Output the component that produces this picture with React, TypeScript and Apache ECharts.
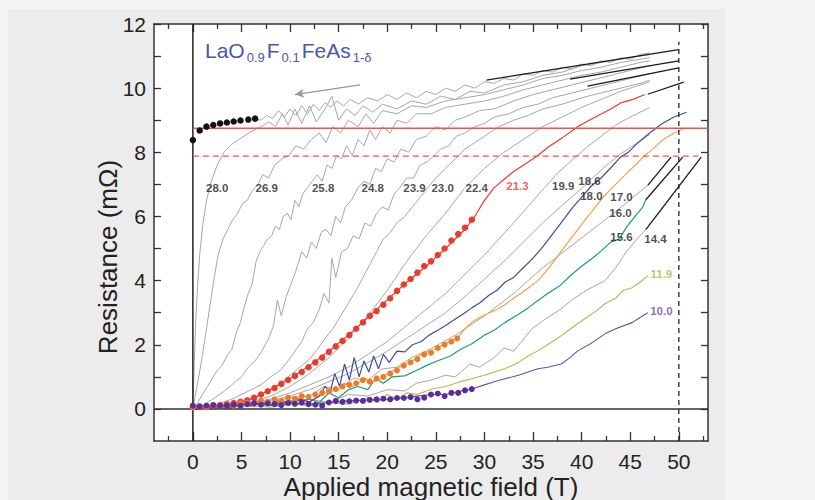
import React, { useEffect, useRef } from "react";
import * as echarts from "echarts";

// ---------- data (field T, resistance mΩ) ----------
const xMajorTicks = [0, 5, 10, 15, 20, 25, 30, 35, 40, 45, 50];
const xMinorTicks = [-2.5, 2.5, 7.5, 12.5, 17.5, 22.5, 27.5, 32.5, 37.5, 42.5, 47.5, 52.5];
const yLabelTicks = [0, 2, 4, 6, 8, 10, 12];
const yAllTicks = [0, 1, 2, 3, 4, 5, 6, 7, 8, 9, 10, 11, 12];

const blackDots = [[0, 8.38], [0.7, 8.68], [1.4, 8.8], [2.1, 8.85], [2.8, 8.9], [3.5, 8.93], [4.2, 8.96], [4.9, 8.99], [5.7, 9.02], [6.4, 9.05]];

const cTop = [[6.4, 9.05], [7, 9.0], [7.6, 9.15], [8.2, 9.05], [8.8, 9.3], [9.4, 9.1], [10, 9.35], [10.6, 9.15], [11.2, 9.45], [11.8, 9.2], [12.4, 9.5], [13, 9.3], [13.6, 9.55], [14.2, 9.4], [14.8, 9.6], [15.5, 9.45], [16.2, 9.65], [17, 9.5], [18, 9.7], [19, 9.6], [20, 9.8], [21, 9.65], [22, 9.85], [23, 9.7], [24, 9.9], [25, 9.8], [26, 10.0], [27, 9.9], [28, 10.1], [29, 10.0], [30, 10.2], [31, 10.15], [32, 10.3], [33, 10.25], [34, 10.45], [35, 10.4], [36, 10.55], [37, 10.5], [38, 10.65], [39, 10.6], [40, 10.75], [41, 10.7], [42, 10.85], [43, 10.8], [44, 10.95], [45, 10.9], [46, 11.05], [47, 11.1]];

const c280 = [[0, 0], [0.15, 1.5], [0.3, 2.8], [0.5, 3.9], [0.7, 4.8], [1, 5.7], [1.4, 6.5], [1.9, 7.1], [2.5, 7.6], [3.2, 8.0], [4, 8.25], [5, 8.45], [6, 8.65], [7, 8.8], [7.8, 8.95], [8.5, 8.8], [9.2, 9.2], [9.8, 8.85], [10.5, 9.35], [11.2, 8.9], [12, 9.45], [12.7, 8.95], [13.5, 9.3], [14.3, 9.75], [15, 9.0], [15.8, 9.35], [16.7, 9.15], [17.5, 9.45], [18.5, 9.25], [19.5, 9.5], [21, 9.35], [22.5, 9.6], [24, 9.5], [25.5, 9.75], [27, 9.65], [28.5, 9.9], [30, 9.85], [32, 10.1], [34, 10.2], [36, 10.4], [38, 10.5], [40, 10.7], [42, 10.8], [44, 10.9], [46, 11.0], [47, 11.05]];

const c269 = [[0, 0], [0.3, 0.5], [0.6, 1.0], [1, 1.7], [1.4, 2.5], [1.8, 3.3], [2.2, 4.1], [2.6, 4.8], [3.1, 5.3], [3.6, 5.6], [4.1, 5.9], [4.6, 6.1], [5.1, 6.4], [5.6, 6.5], [6.1, 6.8], [6.7, 7.0], [7.2, 7.3], [7.8, 7.2], [8.4, 7.6], [9.2, 7.8], [9.9, 7.9], [10.6, 8.2], [11.4, 8.1], [12.2, 8.4], [13, 8.6], [13.7, 8.3], [14.4, 8.8], [15.2, 8.6], [16, 9.0], [17, 8.8], [17.8, 9.2], [18.6, 8.9], [19.5, 9.3], [21, 9.2], [22.5, 9.45], [24, 9.4], [26, 9.6], [28, 9.7], [30, 9.8], [32, 9.95], [34, 10.1], [36, 10.3], [38, 10.4], [40, 10.55], [42, 10.65], [44, 10.8], [46, 10.9], [47, 10.95]];

const c258 = [[0, 0], [0.5, 0.2], [1, 0.45], [1.5, 0.7], [2, 0.95], [2.5, 1.2], [3, 1.35], [3.5, 1.65], [4, 1.85], [4.5, 2.4], [4.9, 2.7], [5.3, 3.2], [5.7, 3.6], [6.1, 3.9], [6.5, 4.6], [6.9, 4.9], [7.3, 5.1], [7.7, 5.3], [8.1, 5.4], [8.5, 5.7], [8.9, 5.6], [9.3, 6.0], [9.7, 6.1], [10.1, 5.9], [10.5, 6.5], [10.9, 6.3], [11.3, 6.7], [11.8, 6.9], [12.3, 7.1], [12.8, 7.3], [13.3, 7.1], [13.8, 7.6], [14.3, 7.5], [14.8, 7.9], [15.3, 7.8], [15.8, 8.2], [16.4, 7.9], [17, 8.4], [17.6, 8.2], [18.2, 8.7], [18.8, 8.4], [19.5, 8.8], [20.3, 8.6], [21, 9.0], [22, 8.9], [23, 9.2], [24.5, 9.2], [26, 9.4], [28, 9.5], [30, 9.6], [32, 9.75], [34, 9.95], [36, 10.1], [38, 10.25], [40, 10.4], [42, 10.5], [44, 10.65], [46, 10.8], [47, 10.85]];

const c248 = [[0, 0], [1, 0.1], [2, 0.3], [3, 0.5], [4, 0.75], [5, 1.0], [5.7, 1.3], [6.4, 1.5], [7.1, 1.8], [7.8, 2.2], [8.3, 2.6], [8.7, 3.4], [9.1, 2.9], [9.6, 3.5], [10.1, 3.9], [10.6, 4.3], [11.2, 4.9], [11.7, 4.7], [12.2, 5.2], [12.7, 5.0], [13.2, 5.5], [13.7, 5.6], [14.2, 5.4], [14.7, 6.0], [15.2, 5.8], [15.7, 6.3], [16.3, 6.5], [17, 6.9], [17.6, 7.1], [18.2, 7.0], [18.8, 7.5], [19.4, 7.4], [20, 7.8], [20.7, 7.7], [21.4, 8.1], [22.2, 8.0], [23, 8.4], [24, 8.5], [25, 8.8], [26, 8.7], [27, 9.0], [28, 9.1], [29.5, 9.3], [31, 9.35], [33, 9.6], [35, 9.8], [37, 9.95], [39, 10.1], [41, 10.25], [43, 10.4], [45, 10.55], [47, 10.7]];

const c239 = [[0, 0], [2, 0.1], [4, 0.3], [6, 0.6], [7, 0.75], [8, 1.0], [9, 1.2], [9.8, 1.5], [10.5, 1.8], [11.2, 2.1], [11.8, 2.5], [12.4, 2.7], [13, 3.1], [13.5, 3.6], [14, 3.3], [14.3, 4.7], [14.7, 4.1], [15.3, 4.9], [15.9, 5.0], [16.5, 5.4], [17.1, 5.3], [17.7, 5.8], [18.3, 5.7], [18.9, 6.1], [19.5, 6.3], [20.1, 6.2], [20.7, 6.7], [21.3, 6.9], [22, 7.2], [22.7, 7.2], [23.4, 7.6], [24.1, 7.7], [24.8, 7.9], [25.5, 8.1], [26.3, 8.2], [27.1, 8.5], [28, 8.6], [29, 8.8], [30, 8.9], [31, 9.1], [32.5, 9.2], [34, 9.4], [35.5, 9.5], [37, 9.7], [39, 9.85], [41, 10.0], [43, 10.15], [45, 10.3], [47, 10.45]];

const c230 = [[0, 0], [3, 0.1], [5, 0.25], [7, 0.45], [9, 0.8], [10, 1.05], [11, 1.3], [12, 1.55], [12.8, 1.85], [13.6, 2.2], [14.4, 2.5], [15.2, 2.9], [16, 3.3], [16.8, 3.7], [17.5, 4.1], [18.2, 4.5], [18.9, 4.9], [19.6, 5.3], [20.3, 5.5], [21, 5.8], [21.8, 6.0], [22.6, 6.3], [23.4, 6.6], [24.2, 6.9], [25, 7.2], [26, 7.5], [27, 7.8], [28, 8.1], [29, 8.3], [30, 8.5], [31.5, 8.8], [33, 9.0], [34.5, 9.15], [36, 9.35], [38, 9.5], [40, 9.7], [42, 9.85], [44, 10.0], [46, 10.15], [47, 10.25]];

const c224 = [[0, 0], [3, 0.05], [6, 0.2], [8, 0.4], [10, 0.7], [12, 1.1], [14, 1.6], [16, 2.2], [18, 2.9], [20, 3.7], [22, 4.6], [24, 5.4], [26, 6.1], [28, 6.9], [30, 7.5], [32, 8.0], [34, 8.4], [36, 8.8], [38, 9.1], [40, 9.4], [42, 9.65], [44, 9.9], [46, 10.1], [47, 10.2]];

const c213 = [[0, 0.05], [2, 0.08], [4, 0.15], [6, 0.3], [8, 0.6], [10, 0.95], [12, 1.35], [14, 1.8], [16, 2.3], [18, 2.85], [20, 3.4], [22, 3.95], [24, 4.45], [26, 5.0], [28, 5.6], [29, 6.0], [30, 6.5], [31, 6.9], [32, 7.15], [33, 7.4], [34, 7.6], [35.5, 7.9], [36.5, 8.15], [38, 8.45], [39.6, 8.8], [40.5, 8.95], [41.7, 9.15], [43, 9.35], [44.1, 9.55], [45.3, 9.65], [46.5, 9.8]];
const c213Dots = [[0, 0.05], [0.7, 0.06], [1.4, 0.08], [2.1, 0.1], [2.8, 0.12], [3.5, 0.15], [4.2, 0.18], [4.9, 0.22], [5.6, 0.27], [6.3, 0.35], [7.0, 0.45], [7.7, 0.55], [8.4, 0.65], [9.1, 0.78], [9.8, 0.9], [10.5, 1.03], [11.2, 1.15], [11.9, 1.3], [12.6, 1.45], [13.3, 1.6], [14.0, 1.78], [14.7, 1.95], [15.4, 2.12], [16.1, 2.3], [16.8, 2.5], [17.5, 2.7], [18.2, 2.9], [18.9, 3.05], [19.6, 3.25], [20.3, 3.45], [21.0, 3.68], [21.7, 3.88], [22.4, 4.05], [23.1, 4.25], [23.8, 4.45], [24.5, 4.6], [25.2, 4.8], [25.9, 5.0], [26.6, 5.25], [27.3, 5.45], [28.0, 5.65], [28.7, 5.9]];

const c199 = [[0, 0], [3, 0.05], [5, 0.15], [8, 0.3], [10, 0.5], [12, 0.75], [14, 1.0], [16, 1.3], [18, 1.7], [20, 2.1], [22, 2.6], [24, 3.1], [26, 3.6], [28, 4.2], [30, 4.8], [31.5, 5.3], [33, 5.8], [34.6, 6.35], [36.2, 6.9], [37.5, 7.35], [39, 7.75], [40.5, 8.15], [42, 8.5], [43.5, 8.85], [45, 9.1], [46, 9.25], [47, 9.4]];

const c186 = [[0, 0], [4, 0.05], [8, 0.25], [10, 0.4], [12, 0.6], [14, 0.85], [16, 1.1], [18, 1.45], [20, 1.8], [22, 2.2], [24, 2.6], [26, 3.0], [28, 3.5], [30, 4.05], [32, 4.6], [34, 5.2], [36, 5.8], [38, 6.35], [40.1, 6.9], [42, 7.45], [44, 7.95], [46, 8.35], [47, 8.55]];

const c180 = [[0, 0.05], [1, 0.08], [2, 0.03], [3, 0.12], [4, 0.05], [5, 0.15], [6, 0.1], [7, 0.2], [8, 0.12], [9, 0.25], [10, 0.18], [11, 0.3], [12, 0.22], [13, 0.4], [13.6, 0.7], [14.1, 0.5], [14.6, 1.1], [15.1, 0.7], [15.6, 1.4], [16.1, 0.9], [16.6, 1.6], [17.1, 1.0], [17.6, 1.5], [18.1, 1.15], [18.6, 1.65], [19.1, 1.25], [19.6, 1.7], [20.2, 1.45], [21, 1.8], [21.8, 1.78], [22.6, 2.0], [23.5, 2.1], [24.3, 2.3], [25.2, 2.45], [26, 2.6], [27, 2.8], [28, 3.0], [28.7, 3.15], [29.5, 3.3], [30.5, 3.55], [31.3, 3.7], [32.1, 3.95], [33, 4.1], [34, 4.4], [35, 4.7], [36, 5.05], [37, 5.45], [38, 5.85], [39, 6.25], [40, 6.6], [41, 6.95], [42, 7.2], [43.1, 7.55], [44, 7.85], [44.8, 8.0], [45.8, 8.3], [47, 8.6], [48.3, 8.9], [49.5, 9.1], [50.8, 9.25]];

const c170 = [[0, 0.05], [1, 0.1], [2, 0.02], [3, 0.15], [4, 0.0], [5, 0.2], [6, 0.08], [7, 0.25], [8, 0.1], [9, 0.3], [10, 0.15], [11, 0.35], [12, 0.2], [13, 0.4], [14, 0.55], [15, 0.6], [15.6, 0.8], [16.5, 0.7], [17.7, 0.95], [18.5, 0.85], [19.2, 0.9], [20, 1.1], [21, 1.25], [21.8, 1.4], [22.6, 1.5], [23.5, 1.7], [24.3, 1.8], [25.1, 1.9], [26, 2.05], [27.2, 2.2], [28, 2.5], [28.7, 2.7], [29.5, 2.85], [30.5, 3.0], [31.3, 3.1], [32.1, 3.25], [33, 3.45], [34, 3.65], [35.5, 4.0], [36.5, 4.35], [37.5, 4.75], [38.5, 5.15], [39.5, 5.55], [40.5, 5.95], [41.3, 6.25], [42.2, 6.6], [43, 6.85], [44, 7.15], [44.8, 7.4], [45.7, 7.65], [46.5, 7.9], [47.3, 8.1], [48.4, 8.4], [49.5, 8.6], [50.6, 8.75]];
const c170Dots = [[0, 0.05], [0.7, 0.08], [1.4, 0.05], [2.1, 0.12], [2.8, 0.08], [3.5, 0.15], [4.2, 0.1], [4.9, 0.18], [5.6, 0.2], [6.3, 0.15], [7.0, 0.25], [7.7, 0.22], [8.4, 0.3], [9.1, 0.25], [9.8, 0.35], [10.5, 0.32], [11.2, 0.4], [11.9, 0.38], [12.6, 0.45], [13.3, 0.5], [14.0, 0.55], [14.7, 0.62], [15.4, 0.7], [16.1, 0.75], [16.8, 0.8], [17.5, 0.9], [18.2, 0.85], [18.9, 0.95], [19.6, 1.0], [20.3, 1.1], [21.0, 1.2], [21.7, 1.35], [22.4, 1.45], [23.1, 1.55], [23.8, 1.7], [24.5, 1.75], [25.2, 1.9], [25.9, 2.0], [26.6, 2.1], [27.2, 2.2]];

const cGrayA = [[0, 0], [4, 0.1], [8, 0.2], [10, 0.35], [12, 0.4], [13.5, 0.7], [15, 0.6], [16.5, 0.95], [18, 0.9], [19.5, 1.25], [21, 1.3], [22.5, 1.6], [24, 1.8], [25.5, 2.05], [27, 2.3], [28.5, 2.6], [30, 2.9], [31.5, 3.25], [33, 3.6], [34.5, 4.0], [36, 4.4], [37.5, 4.75], [39, 5.1], [40.5, 5.45], [42, 5.8], [43.3, 6.1], [44.5, 6.4], [45.7, 6.7], [46.8, 6.97]];

const c160 = [[0, 0.0], [2, 0.1], [4, 0.05], [6, 0.2], [8, 0.1], [10, 0.25], [12, 0.3], [13, 0.2], [14, 0.5], [15, 0.35], [16, 0.6], [17, 0.7], [18, 0.6], [18.8, 0.95], [19.6, 0.8], [20.5, 1.0], [21.8, 1.03], [23, 1.2], [24, 1.35], [25.2, 1.5], [26.5, 1.65], [27.5, 1.85], [28.7, 2.03], [30, 2.3], [31, 2.45], [32.1, 2.69], [33.5, 2.95], [34.5, 3.15], [35.5, 3.38], [36.5, 3.6], [37.8, 3.85], [39, 4.2], [40, 4.45], [41.2, 4.72], [42.1, 4.95], [43, 5.2], [43.9, 5.3], [44.6, 5.66], [45.5, 6.0], [46.3, 6.3], [46.6, 6.52]];

const c144 = [[0, 0], [3, 0.05], [6, 0.15], [9, 0.1], [12, 0.3], [14, 0.2], [16, 0.45], [18, 0.4], [20, 0.6], [21.8, 0.56], [23, 0.8], [24.5, 0.9], [26, 1.05], [27, 1.0], [28.5, 1.4], [29.5, 1.3], [31, 1.6], [32, 1.9], [33, 1.8], [34.9, 2.5], [36, 2.75], [37.8, 3.1], [39, 3.4], [40.5, 3.7], [42.4, 4.0], [43.5, 4.4], [44.6, 4.9], [45.7, 5.3], [46.6, 5.59]];

const c119 = [[0, 0], [2, 0.05], [4, 0.0], [6, 0.1], [8, 0.05], [10, 0.15], [12, 0.1], [14, 0.2], [16, 0.15], [18, 0.35], [19, 0.2], [20, 0.45], [21, 0.3], [22, 0.5], [23, 0.45], [24.6, 0.62], [26, 0.7], [27.5, 0.85], [28.7, 0.94], [30, 1.05], [31, 1.15], [32.1, 1.25], [33.5, 1.45], [34.5, 1.65], [35.5, 1.81], [37, 2.1], [38, 2.3], [39, 2.53], [40.5, 2.85], [41.5, 3.05], [42.4, 3.28], [43.5, 3.45], [44.3, 3.7], [45.2, 3.78], [46, 3.95], [46.8, 4.15]];

const c100 = [[0, 0.1], [2, 0.08], [4, 0.12], [6, 0.15], [8, 0.12], [10, 0.18], [12, 0.15], [14, 0.2], [16, 0.25], [18, 0.28], [20, 0.3], [21.8, 0.34], [23, 0.4], [24.5, 0.45], [26, 0.45], [27.5, 0.55], [28.7, 0.62], [30, 0.75], [31, 0.85], [32.1, 0.94], [33.5, 1.05], [35.5, 1.25], [36.5, 1.3], [37.9, 1.4], [38.8, 1.6], [39.6, 1.81], [41, 2.05], [42.4, 2.34], [43.5, 2.5], [45.2, 2.69], [46, 2.85], [46.8, 3.0]];
const c100Dots = [[0, 0.1], [0.7, 0.08], [1.4, 0.1], [2.1, 0.12], [2.8, 0.09], [3.5, 0.11], [4.2, 0.13], [4.9, 0.1], [5.6, 0.15], [6.3, 0.18], [7.0, 0.13], [7.7, 0.17], [8.4, 0.15], [9.1, 0.12], [9.8, 0.18], [10.5, 0.16], [11.2, 0.2], [11.9, 0.15], [12.6, 0.13], [13.3, 0.1], [14.0, 0.2], [14.7, 0.25], [15.4, 0.22], [16.1, 0.24], [16.8, 0.26], [17.5, 0.25], [18.2, 0.28], [18.9, 0.3], [19.6, 0.32], [20.3, 0.3], [21.0, 0.34], [21.7, 0.34], [22.4, 0.37], [23.1, 0.3], [23.8, 0.35], [24.5, 0.45], [25.2, 0.48], [25.9, 0.4], [26.6, 0.5], [27.3, 0.5], [28.0, 0.58], [28.7, 0.62]];

// extrapolation segments (black)
const extrapolations = [
  [[30.2, 10.25], [50, 11.2]],
  [[38.8, 10.28], [50, 10.85]],
  [[40.6, 10.06], [50, 10.63]],
  [[46.8, 9.81], [50.5, 10.19]],
  [[46.8, 6.97], [49.2, 7.85]],
  [[46.6, 6.52], [50.4, 7.85]],
  [[46.6, 5.59], [52.3, 7.85]],
];

const solidRed = [[0, 8.75], [53, 8.75]];
const dashedRed = [[0, 7.88], [52, 7.88]];
const zeroFieldLine = [[0, -1], [0, 12]];
const zeroResLine = [[-4, 0], [53, 0]];
const field50Line = [[50, -1], [50, 11.45]];
const arrowFrom = [17.2, 10.1];
const arrowTo = [10.5, 9.8];

const curveLabels = ["28.0", "26.9", "25.8", "24.8", "23.9", "23.0", "22.4", "21.3", "19.9", "18.6", "18.0", "17.0", "16.0", "15.6", "14.4", "11.9", "10.0"];
const curveLabelX = [2.5, 7.6, 13.4, 18.5, 22.8, 25.7, 29.2, 33.4, 38.1, 40.8, 41.0, 44.1, 44.0, 44.1, 47.6, 48.2, 48.2];
const curveLabelY = [6.9, 6.9, 6.9, 6.9, 6.9, 6.9, 6.9, 6.95, 6.95, 7.1, 6.65, 6.6, 6.1, 5.35, 5.3, 4.2, 3.05];

const xAxisTitle = "Applied magnetic field (T)";
const yAxisTitle = "Resistance (mΩ)";

// ---------- styles ----------
const GRAY = "#a6a6a6";
const RED = "#ee3a2c";
const BLUE = "#3f4e9e";
const ORANGE = "#f7a048";
const ORANGE_DOT = "#f27a24";
const GREEN = "#1c9e74";
const OLIVE = "#b2b64e";
const PURPLE = "#6b4ca6";
const PURPLE_DOT = "#5a2d9c";
const AXIS = "#333333";
const FONT = "'Liberation Sans', Arial, Helvetica, sans-serif";

const labelColor = (name: string) =>
  name === "21.3" ? RED : name === "11.9" ? OLIVE : name === "10.0" ? PURPLE : "#222222";

function lineSeries(data: number[][], color: string, width = 1, z = 3, type: any = "solid") {
  return {
    type: "line",
    data,
    showSymbol: false,
    symbol: "none",
    silent: true,
    z,
    lineStyle: { color, width, type },
  };
}

function dotSeries(data: number[][], color: string, size = 6) {
  return {
    type: "scatter",
    data,
    symbolSize: size,
    silent: true,
    z: 6,
    itemStyle: { color, opacity: 1 },
  };
}

function buildOption() {
  const grays = [cTop, c280, c269, c258, c248, c239, c230, c224, c199, c186, cGrayA, c144];
  const series: any[] = [];
  grays.forEach((g) => series.push(lineSeries(g, GRAY, 1, 2)));
  series.push(lineSeries(c119, OLIVE, 1.1, 3));
  series.push(lineSeries(c100, PURPLE, 1.1, 3));
  series.push(lineSeries(c160, GREEN, 1.2, 3));
  series.push(lineSeries(c170, ORANGE, 1.2, 3));
  series.push(lineSeries(c180, BLUE, 1.2, 3));
  series.push(lineSeries(c213, RED, 1.2, 3));
  extrapolations.forEach((s) => series.push(lineSeries(s, "#1a1a1a", 1.3, 4)));
  series.push(lineSeries(solidRed, "#f0554a", 1.6, 5));
  series.push(lineSeries(dashedRed, "#f0554a", 1.4, 5, [6, 4]));
  series.push(lineSeries(zeroFieldLine, "#222", 1.5, 4));
  series.push(lineSeries(zeroResLine, "#333", 1.5, 4));
  series.push(lineSeries(field50Line, "#222", 1.3, 4, [5, 4]));
  series.push(dotSeries(c213Dots, RED, 6.5));
  series.push(dotSeries(c170Dots, ORANGE_DOT, 6));
  series.push(dotSeries(c100Dots, PURPLE_DOT, 6));
  series.push(dotSeries(blackDots, "#111", 6.5));
  // arrow
  series.push({
    type: "line",
    data: [],
    silent: true,
    markLine: {
      silent: true,
      symbol: ["none", "arrow"],
      symbolSize: [7, 9],
      label: { show: false },
      lineStyle: { color: "#999", width: 1.3, type: "solid" },
      data: [[{ coord: arrowFrom }, { coord: arrowTo }]],
    },
  });
  // curve labels
  series.push({
    type: "scatter",
    symbolSize: 0,
    silent: true,
    z: 8,
    data: curveLabels.map((n, i) => ({
      name: n,
      value: [curveLabelX[i], curveLabelY[i]],
      label: { color: labelColor(n) },
    })),
    label: {
      show: true,
      position: "inside",
      formatter: "{b}",
      fontSize: 11.5,
      fontWeight: "bold",
      fontFamily: FONT,
    },
  });

  const axisCommon = {
    type: "value",
    splitLine: { show: false },
  };
  const xBase = { ...axisCommon, min: -4, max: 53 };
  const yBase = { ...axisCommon, min: -1, max: 12 };

  return {
    animation: false,
    backgroundColor: "#f4f4f4",
    textStyle: { fontFamily: FONT },
    graphic: [
      { type: "rect", z: -10, silent: true, shape: { x: 8, y: 9, width: 717, height: 500 }, style: { fill: "#ececec" } },
      {
        type: "text",
        left: 205,
        top: 40,
        z: 100,
        silent: true,
        style: {
          text: "{m|LaO}{s|0.9}{m|F}{s|0.1}{m|FeAs}{s|1-δ}",
          rich: {
            m: { fontSize: 21, fontFamily: FONT, fill: "#4b56a8", verticalAlign: "top", lineHeight: 24, padding: [0, 1, 0, 0] },
            s: { fontSize: 13, fontFamily: FONT, fill: "#4b56a8", verticalAlign: "top", padding: [11, 2, 0, 1], lineHeight: 15 },
          },
        },
      },
      {
        type: "text",
        x: 108,
        y: 257,
        rotation: Math.PI / 2,
        z: 100,
        silent: true,
        style: {
          text: yAxisTitle,
          fontSize: 26,
          fontFamily: FONT,
          fill: "#222",
          align: "center",
          verticalAlign: "middle",
        },
      },
    ],
    grid: {
      left: 154,
      top: 24,
      right: 107,
      bottom: 59,
      containLabel: false,
      outerBoundsMode: "none",
      show: true,
      backgroundColor: "#ffffff",
      borderWidth: 0,
    },
    xAxis: [
      {
        ...xBase,
        position: "bottom",
        name: xAxisTitle,
        nameLocation: "middle",
        nameGap: 32,
        nameMoveOverlap: false,
        nameTextStyle: { fontSize: 26, color: "#222", fontFamily: FONT, lineHeight: 27 },
        axisLine: { show: true, onZero: false, lineStyle: { color: AXIS, width: 1.5 } },
        axisTick: { show: true, inside: true, length: 9, customValues: xMajorTicks, lineStyle: { color: AXIS, width: 1.3 } },
        axisLabel: { show: true, customValues: xMajorTicks, fontSize: 21, lineHeight: 21, color: "#222", margin: 10, fontFamily: FONT },
      },
      {
        ...xBase,
        position: "bottom",
        axisLine: { show: false, onZero: false },
        axisTick: { show: true, inside: true, length: 5, customValues: xMinorTicks, lineStyle: { color: AXIS, width: 1.3 } },
        axisLabel: { show: false },
      },
      {
        ...xBase,
        position: "top",
        axisLine: { show: true, onZero: false, lineStyle: { color: AXIS, width: 1.5 } },
        axisTick: { show: true, inside: true, length: 8, customValues: xMajorTicks, lineStyle: { color: AXIS, width: 1.3 } },
        axisLabel: { show: false },
      },
      {
        ...xBase,
        position: "top",
        axisLine: { show: false, onZero: false },
        axisTick: { show: true, inside: true, length: 5, customValues: xMinorTicks, lineStyle: { color: AXIS, width: 1.3 } },
        axisLabel: { show: false },
      },
    ],
    yAxis: [
      {
        ...yBase,
        position: "left",
        axisLine: { show: true, onZero: false, lineStyle: { color: AXIS, width: 1.5 } },
        axisTick: { show: true, inside: true, length: 7, customValues: yAllTicks, lineStyle: { color: AXIS, width: 1.3 } },
        axisLabel: { show: true, customValues: yLabelTicks, fontSize: 21, color: "#222", margin: 8, fontFamily: FONT },
      },
      {
        ...yBase,
        position: "right",
        axisLine: { show: true, onZero: false, lineStyle: { color: AXIS, width: 1.5 } },
        axisTick: { show: true, inside: true, length: 7, customValues: yAllTicks, lineStyle: { color: AXIS, width: 1.3 } },
        axisLabel: { show: false },
      },
    ],
    series: series.map((s) => ({ ...s, xAxisIndex: 0, yAxisIndex: 0 })),
  };
}

export default function App() {
  const ref = useRef<HTMLDivElement>(null);
  useEffect(() => {
    if (!ref.current) return;
    const chart = echarts.init(ref.current, null, { renderer: "svg" });
    chart.setOption(buildOption() as any);
    return () => chart.dispose();
  }, []);
  return (
    <div
      ref={ref}
      style={{ position: "fixed", left: 0, top: 0, width: 815, height: 500 }}
    />
  );
}
